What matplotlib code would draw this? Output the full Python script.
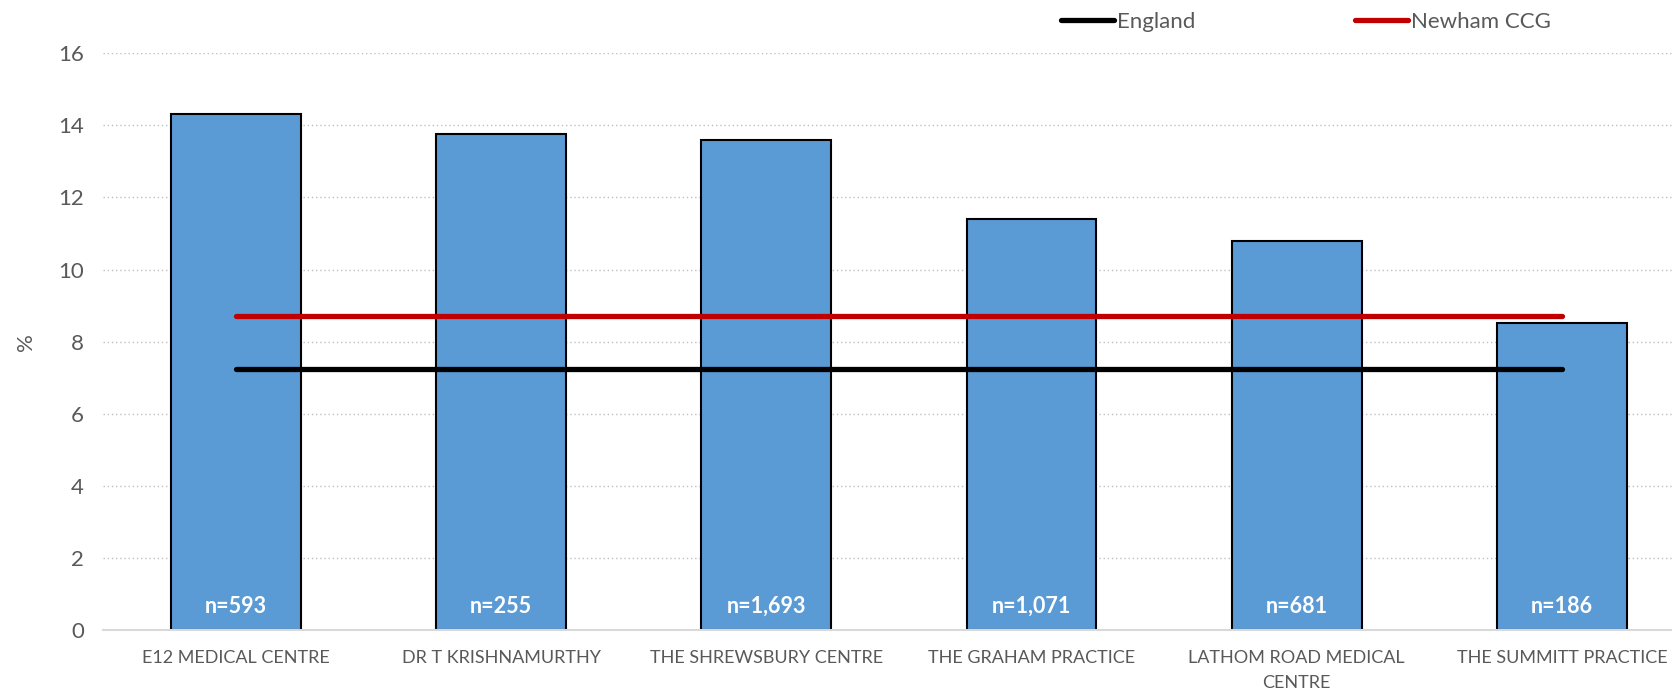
import matplotlib
matplotlib.use("Agg")
import matplotlib.pyplot as plt
import numpy as np

# values
practices = ["E12 MEDICAL CENTRE", "DR T KRISHNAMURTHY", "THE SHREWSBURY CENTRE",
             "THE GRAHAM PRACTICE", "LATHOM ROAD MEDICAL\nCENTRE", "THE SUMMITT PRACTICE"]
pct = [14.32, 13.77, 13.6, 11.4, 10.78, 8.52]
n_labels = ["n=593", "n=255", "n=1,693", "n=1,071", "n=681", "n=186"]
england = 7.25
newham = 8.72

grey = "#595959"
plt.rcParams["font.family"] = ["Lato", "DejaVu Sans"]

fig = plt.figure(figsize=(16.72, 6.91), dpi=100)
ax = fig.add_axes([0.0619, 0.088, 0.9515, 0.835])

x = np.arange(len(practices))
ax.bar(x, pct, width=0.49, color="#5B9BD5", edgecolor="black", linewidth=1.5, zorder=2)

ax.plot([x[0], x[-1]], [england, england], color="black", lw=3.8,
        solid_capstyle="round", zorder=3, label="England")
ax.plot([x[0], x[-1]], [newham, newham], color="#C00000", lw=3.8,
        solid_capstyle="round", zorder=3, label="Newham CCG")

for xi, lab in zip(x, n_labels):
    ax.text(xi, 0.67, lab, ha="center", va="center", color="white",
            fontsize=15.5, fontweight="bold", zorder=4)

ax.set_xlim(-0.5, len(practices) - 0.5)
ax.set_ylim(0, 16)
ax.set_yticks(np.arange(0, 17, 2))
ax.set_xticks(x)
ax.set_xticklabels(practices, fontsize=13, color=grey, linespacing=1.75)
ax.tick_params(axis="y", labelsize=16, labelcolor=grey, length=0, pad=14)
ax.tick_params(axis="x", length=0, pad=14)
ax.grid(axis="y", color="#BFBFBF", linestyle=(0, (1, 2)), linewidth=1, zorder=0)
ax.set_axisbelow(True)

for side in ["top", "right", "left"]:
    ax.spines[side].set_visible(False)
ax.spines["bottom"].set_color("#D9D9D9")
ax.spines["bottom"].set_linewidth(1.5)

ax.set_ylabel("%", fontsize=16, color=grey, labelpad=16)

fig.legend(loc="center left", bbox_to_anchor=(0.6346, 0.968), ncol=2, frameon=False,
           fontsize=16, labelcolor=grey, handlelength=2.4, handletextpad=0.1,
           columnspacing=7.2, borderpad=0, borderaxespad=0)

fig.savefig("out.png", dpi=100)
